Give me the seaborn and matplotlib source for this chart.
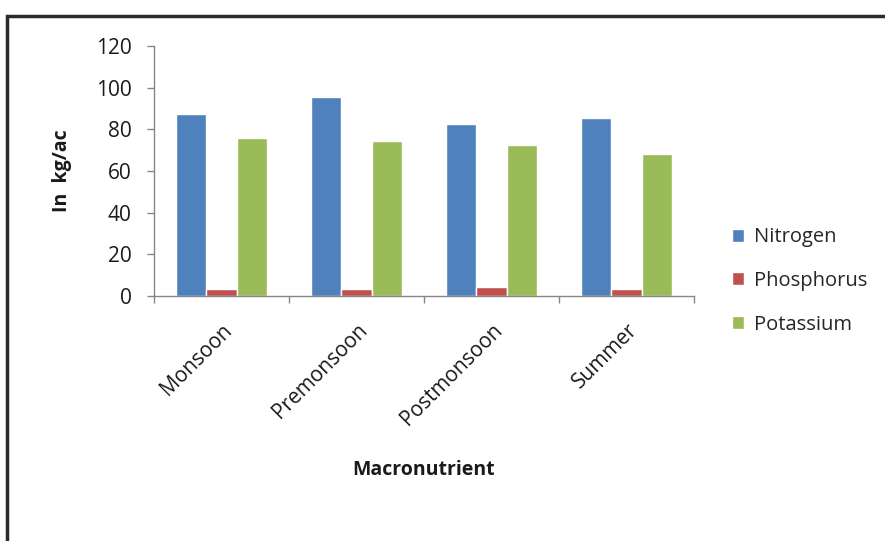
import matplotlib
matplotlib.use("Agg")
import matplotlib.pyplot as plt
from matplotlib.patches import Rectangle
from matplotlib.ticker import FixedLocator, NullFormatter
import pandas as pd
import seaborn as sns

seasons = ["Monsoon", "Premonsoon", "Postmonsoon", "Summer"]
nitrogen = [87.5, 95.5, 82.6, 85.4]
phosphorus = [3.5, 3.5, 4.5, 3.4]
potassium = [76.0, 74.6, 72.3, 68.0]
nutrients = ["Nitrogen", "Phosphorus", "Potassium"]
colors = ["#4F81BD", "#C0504D", "#9BBB59"]

rows = []
for name, vals in zip(nutrients, [nitrogen, phosphorus, potassium]):
    for s, v in zip(seasons, vals):
        rows.append({"Season": s, "Nutrient": name, "Value": v})
df = pd.DataFrame(rows)

sns.set_theme(style="white")
plt.rcParams["font.family"] = ["Open Sans", "DejaVu Sans"]

W, H = 885, 541
fig = plt.figure(figsize=(W / 100, H / 100), dpi=100)
ax = fig.add_axes([154 / W, 1 - 296 / H, 540 / W, 250 / H])

sns.barplot(data=df, x="Season", y="Value", hue="Nutrient", order=seasons,
            hue_order=nutrients, palette=colors, width=0.667, saturation=1,
            ax=ax, errorbar=None)

ax.set_ylim(0, 120)
ax.set_yticks(range(0, 121, 20))
ax.set_xlim(-0.5, len(seasons) - 0.5)

grey = "#868686"
text_col = "#1a1a1a"
for side in ["top", "right"]:
    ax.spines[side].set_visible(False)
for side in ["left", "bottom"]:
    ax.spines[side].set_color(grey)
    ax.spines[side].set_linewidth(1.0)

# category boundary ticks on the x axis, labels at the centres
ax.xaxis.set_major_locator(FixedLocator([i - 0.5 for i in range(len(seasons) + 1)]))
ax.xaxis.set_major_formatter(NullFormatter())
ax.xaxis.set_minor_locator(FixedLocator(range(len(seasons))))
ax.set_xticklabels(seasons, minor=True, rotation=45, ha="right",
                   rotation_mode="anchor", fontsize=15, color=text_col)
ax.tick_params(axis="x", which="major", bottom=True, length=5, width=1, color=grey)
ax.tick_params(axis="x", which="minor", bottom=False, length=0, pad=17)
ax.tick_params(axis="y", left=True, length=5, width=1, color=grey,
               labelsize=15, labelcolor=text_col, pad=11)

ax.set_xlabel("Macronutrient", fontsize=14, fontweight="bold", color=text_col)
ax.xaxis.set_label_coords(0.5, (1 - 460 / H - (1 - 296 / H)) / (250 / H))
ax.set_ylabel("In  kg/ac", fontsize=14, fontweight="bold", color=text_col)
ax.yaxis.set_label_coords((72 - 154) / 540, 0.5)

handles, labels = ax.get_legend_handles_labels()
ax.legend(handles, labels, loc="center left",
          bbox_to_anchor=((732 - 154) / 540, (296 - 281) / 250),
          frameon=False, fontsize=14.5, handlelength=0.62, handleheight=0.62,
          handletextpad=0.45, labelspacing=1.18, borderpad=0, borderaxespad=0)

# outer chart border, running off the right and bottom edges
fig.patches.append(Rectangle((7 / W, -0.1), 1.2, 1 - 16 / H + 0.1,
                             transform=fig.transFigure, fill=False,
                             edgecolor="#2b2b2b", linewidth=2.5, clip_on=False))

fig.savefig("out.png", dpi=100)
